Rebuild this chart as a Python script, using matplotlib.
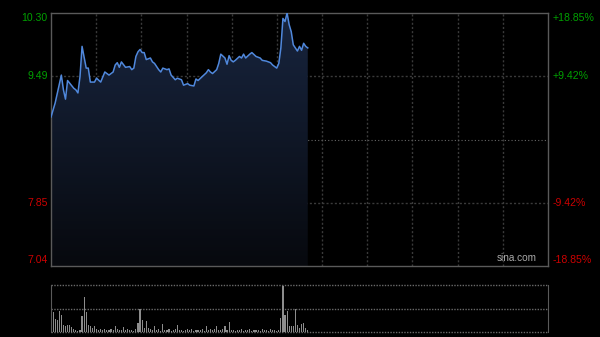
import numpy as np
import matplotlib
matplotlib.use("Agg")
import matplotlib.pyplot as plt
from matplotlib.colors import LinearSegmentedColormap

plt.rcParams['font.family'] = ['Liberation Sans', 'DejaVu Sans']

# intraday price (minute index, price)
minutes = [0, 2, 5, 6, 7, 8, 11, 12, 13, 14, 15, 17, 18, 19, 21, 22, 24, 26, 28, 30,
           31, 32, 33, 34, 36, 38, 39, 40, 41, 42, 43, 44, 45, 46, 48, 49, 50, 52, 53, 54,
           56, 57, 58, 60, 61, 63, 64, 66, 67, 69, 70, 71, 73, 75, 76, 77, 78, 80, 81, 82,
           84, 85, 86, 87, 88, 89, 91, 92, 93, 94, 96, 97, 99, 101, 102, 104, 106, 107, 108, 109,
           110, 111, 112, 113, 114, 115, 116, 117, 118, 119, 120, 121, 122, 123, 124]
prices = [8.96, 9.14, 9.50, 9.31, 9.19, 9.43, 9.33, 9.31, 9.27, 9.48, 9.87, 9.59, 9.59, 9.41, 9.41, 9.46, 9.41, 9.54, 9.50, 9.54,
          9.63, 9.66, 9.60, 9.67, 9.60, 9.61, 9.57, 9.59, 9.74, 9.80, 9.83, 9.79, 9.79, 9.70, 9.72, 9.67, 9.65, 9.57, 9.54, 9.59,
          9.57, 9.58, 9.50, 9.44, 9.46, 9.44, 9.37, 9.39, 9.37, 9.36, 9.45, 9.43, 9.48, 9.53, 9.57, 9.54, 9.52, 9.57, 9.65, 9.77,
          9.72, 9.64, 9.75, 9.69, 9.67, 9.69, 9.74, 9.72, 9.77, 9.72, 9.77, 9.79, 9.74, 9.72, 9.69, 9.68, 9.66, 9.63, 9.61, 9.59,
          9.65, 9.85, 10.23, 10.19, 10.30, 10.15, 10.06, 9.89, 9.85, 9.81, 9.87, 9.82, 9.91, 9.87, 9.85]

# volume per minute (relative units)
volumes = [17, 60, 40, 35, 62, 52, 22, 17, 20, 22, 15, 10, 5, 3, 6, 47, 107, 60, 22, 17,
           12, 17, 9, 6, 8, 5, 10, 7, 6, 9, 5, 17, 8, 6, 7, 15, 6, 9, 5, 7,
           4, 8, 27, 69, 37, 12, 32, 12, 9, 6, 17, 6, 9, 4, 25, 7, 5, 8, 4, 6,
           9, 22, 5, 7, 4, 6, 9, 5, 8, 4, 7, 6, 5, 9, 4, 17, 6, 8, 5, 9,
           17, 6, 5, 8, 17, 6, 29, 5, 7, 4, 6, 5, 8, 4, 6, 5, 9, 4, 6, 5,
           7, 4, 9, 5, 6, 4, 8, 5, 6, 4, 5, 42, 139, 52, 62, 17, 17, 17, 69, 22,
           12, 25, 27, 12, 7]

price_ticks = [10.30, 9.49, 8.67, 7.85, 7.04]
left_labels = ["10.30", "9.49", "", "7.85", "7.04"]
right_labels = ["+18.85%", "+9.42%", "", "-9.42%", "-18.85%"]
label_colors = ["#00a000", "#00a000", "#000000", "#cc0000", "#cc0000"]
label_va = ["top", "center", "center", "center", "bottom"]

total_minutes = 240
grid_col = "#3a3a3a"
frame_col = "#5a5a5a"

fig = plt.figure(figsize=(6, 3.37), dpi=100, facecolor="black")
ax = fig.add_axes([51 / 600, 1 - 266 / 337, 497 / 600, 253 / 337], facecolor="black")
axv = fig.add_axes([51 / 600, 1 - 332 / 337, 497 / 600, 47 / 337], facecolor="black")

ax.set_xlim(0, total_minutes)
ax.set_ylim(price_ticks[-1], price_ticks[0])

# grid
for k in range(1, 11):
    ax.axvline(total_minutes * k / 11, color=grid_col, lw=1, ls=(0, (1.5, 1.5)), zorder=1)
for p in (9.49, 7.85):
    ax.axhline(p, color=grid_col, lw=1, ls=(0, (1.5, 1.5)), zorder=1)
ax.axhline(8.67, color="#666666", lw=0.8, ls=(0, (1, 2)), zorder=1)

# gradient area under the line
poly = ax.fill_between(minutes, prices, price_ticks[-1], color="none", lw=0)
cmap = LinearSegmentedColormap.from_list("g", ["#07090e", "#18253f"])
grad = np.linspace(0, 1, 256).reshape(-1, 1)
img = ax.imshow(grad, cmap=cmap, aspect="auto", origin="lower",
                extent=[0, total_minutes, price_ticks[-1], price_ticks[0]], zorder=2)
img.set_clip_path(poly.get_paths()[0], transform=ax.transData)
ax.plot(minutes, prices, color="#5088dc", lw=1.1, zorder=3)

ax.set_xticks([])
ax.set_yticks([])
for s in ax.spines.values():
    s.set_color(frame_col)
    s.set_linewidth(1)

ytr = ax.get_yaxis_transform()
for p, lt, rt, c, va in zip(price_ticks, left_labels, right_labels, label_colors, label_va):
    off = {"top": -0.2, "bottom": 0.6, "center": 0}[va]
    ax.annotate(lt, (0, p), xytext=(-2.5, off), textcoords="offset points", xycoords=ytr,
                color=c, fontsize=7.6, ha="right", va=va)
    ax.annotate(rt, (1, p), xytext=(3, off), textcoords="offset points", xycoords=ytr,
                color=c, fontsize=7.6, ha="left", va=va)

ax.text(0.978, 0.012, "sina.com", color="#aaaaaa", fontsize=7.2, ha="right", va="bottom",
        transform=ax.transAxes, zorder=5)

# volume panel
axv.set_xlim(0, total_minutes)
axv.set_ylim(0, 142)
axv.bar(range(len(volumes)), volumes, width=0.55, color="#8c8c8c", zorder=2)
for yv in (0, 71, 142):
    axv.axhline(yv, color="#6a6a6a", lw=1, ls=(0, (1, 1)), zorder=1, clip_on=False)
axv.set_xticks([])
axv.set_yticks([])
for side in ("top", "bottom"):
    axv.spines[side].set_visible(False)
for side in ("left", "right"):
    axv.spines[side].set_color(frame_col)

fig.savefig("out.png", dpi=100, facecolor="black")
